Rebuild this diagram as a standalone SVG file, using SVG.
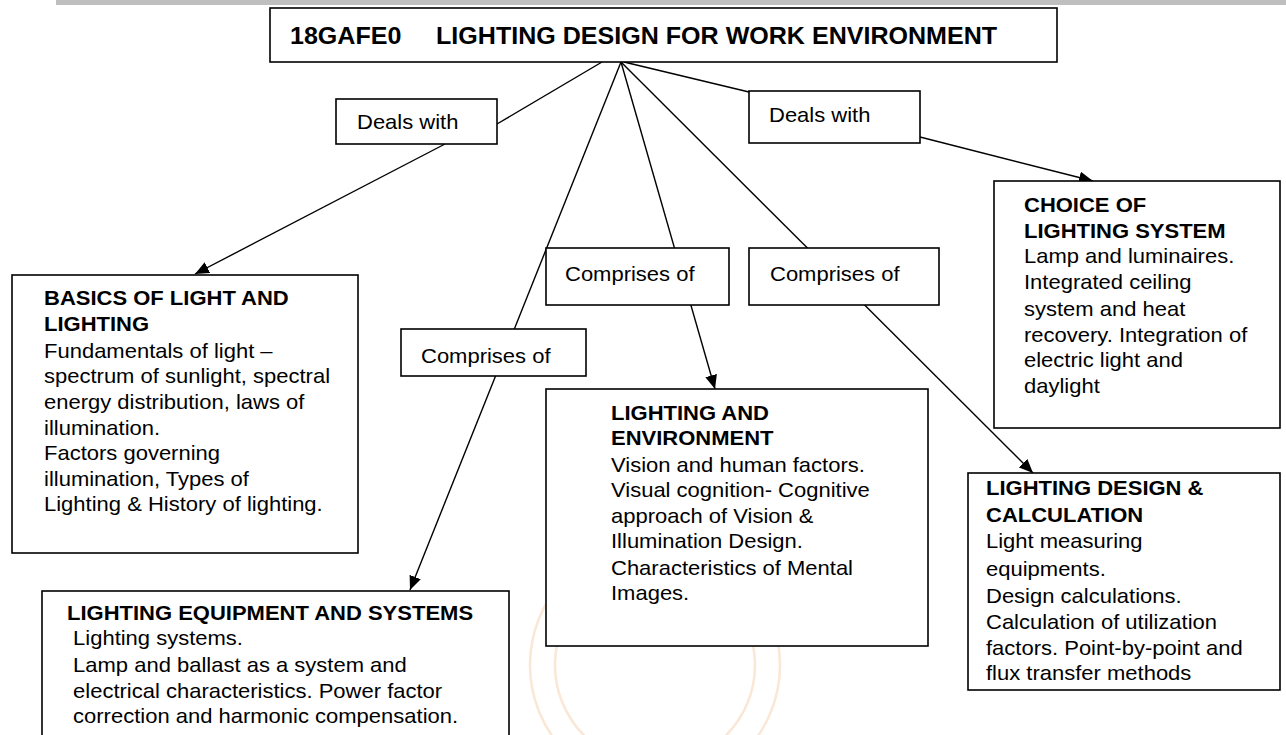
<svg xmlns="http://www.w3.org/2000/svg" width="1286" height="735" viewBox="0 0 1286 735">
<style>
.box{fill:#fff;stroke:#000;stroke-width:1.6}
.t{font-family:"Liberation Sans",Arial,Helvetica,sans-serif;font-size:20px;fill:#000}
.b{font-weight:bold}
.c{stroke:#000;stroke-width:1.4;fill:none}
.wm{fill:none;stroke:#f5d3b3;stroke-width:2.5;opacity:0.55}
</style>
<defs>
<marker id="arr" viewBox="0 0 14 12" refX="14" refY="6" markerWidth="14" markerHeight="12" markerUnits="userSpaceOnUse" orient="auto">
<path d="M0,0 L14,6 L0,12 z" fill="#000"/>
</marker>
</defs>
<rect width="1286" height="735" fill="#fff"/>
<rect x="56" y="0" width="1230" height="5" fill="#bfbfbf"/>
<g id="watermark">
<circle class="wm" cx="655" cy="665" r="125"/>
<circle class="wm" cx="655" cy="665" r="100"/>
</g>
<g id="connectors">
<line class="c" x1="602" y1="62" x2="497" y2="124"/>
<line class="c" x1="445" y1="144" x2="195" y2="274" marker-end="url(#arr)"/>
<line class="c" x1="621" y1="62" x2="410" y2="590" marker-end="url(#arr)"/>
<line class="c" x1="621" y1="62" x2="715" y2="389" marker-end="url(#arr)"/>
<line class="c" x1="621" y1="62" x2="1033" y2="473" marker-end="url(#arr)"/>
<line class="c" x1="624" y1="62" x2="749" y2="92"/>
<line class="c" x1="920" y1="137" x2="1093" y2="181" marker-end="url(#arr)"/>
</g>
<g id="title">
<rect class="box" x="270" y="8" width="787" height="54"/>
<text class="t b" style="font-size:23px" transform="translate(290,44) scale(1.09,1)"><tspan x="0">18GAFE0</tspan><tspan x="134">LIGHTING DESIGN FOR WORK ENVIRONMENT</tspan></text>
</g>
<g id="deals-left">
<rect class="box" x="336" y="99" width="161" height="45"/>
<text class="t" transform="translate(357,129) scale(1.1,1)">Deals with</text>
</g>
<g id="deals-right">
<rect class="box" x="749" y="91" width="171" height="52"/>
<text class="t" transform="translate(769,122) scale(1.1,1)">Deals with</text>
</g>
<g id="comprises-mid">
<rect class="box" x="546" y="248" width="183" height="57"/>
<text class="t" transform="translate(565,281) scale(1.1,1)">Comprises of</text>
</g>
<g id="comprises-right">
<rect class="box" x="749" y="248" width="190" height="57"/>
<text class="t" transform="translate(770,281) scale(1.1,1)">Comprises of</text>
</g>
<g id="comprises-low">
<rect class="box" x="401" y="329" width="185" height="47"/>
<text class="t" transform="translate(421,363) scale(1.1,1)">Comprises of</text>
</g>
<g id="basics">
<rect class="box" x="12" y="275" width="346" height="278"/>
<text class="t" transform="translate(44,305) scale(1.1,1)">
<tspan class="b" x="0" y="0">BASICS OF LIGHT AND</tspan>
<tspan class="b" x="0" y="26.5">LIGHTING</tspan>
<tspan x="0" y="53">Fundamentals of light –</tspan>
<tspan x="0" y="78">spectrum of sunlight, spectral</tspan>
<tspan x="0" y="104">energy distribution, laws of</tspan>
<tspan x="0" y="130">illumination.</tspan>
<tspan x="0" y="155">Factors governing</tspan>
<tspan x="0" y="181">illumination, Types of</tspan>
<tspan x="0" y="206">Lighting &amp; History of lighting.</tspan>
</text>
</g>
<g id="equipment">
<rect class="box" x="42" y="591" width="467" height="160"/>
<text class="t" transform="translate(67,620) scale(1.1,1)">
<tspan class="b" x="0" y="0">LIGHTING EQUIPMENT AND SYSTEMS</tspan>
<tspan x="5.5" y="25">Lighting systems.</tspan>
<tspan x="5.5" y="52">Lamp and ballast as a system and</tspan>
<tspan x="5.5" y="78">electrical characteristics. Power factor</tspan>
<tspan x="5.5" y="103">correction and harmonic compensation.</tspan>
</text>
</g>
<g id="environment">
<rect class="box" x="546" y="389" width="382" height="257"/>
<text class="t" transform="translate(611,420) scale(1.1,1)">
<tspan class="b" x="0" y="0">LIGHTING AND</tspan>
<tspan class="b" x="0" y="25">ENVIRONMENT</tspan>
<tspan x="0" y="52">Vision and human factors.</tspan>
<tspan x="0" y="77">Visual cognition- Cognitive</tspan>
<tspan x="0" y="103">approach of Vision &amp;</tspan>
<tspan x="0" y="128">Illumination Design.</tspan>
<tspan x="0" y="155">Characteristics of Mental</tspan>
<tspan x="0" y="180">Images.</tspan>
</text>
</g>
<g id="choice">
<rect class="box" x="994" y="181" width="286" height="247"/>
<text class="t" transform="translate(1024,212) scale(1.1,1)">
<tspan class="b" x="0" y="0">CHOICE OF</tspan>
<tspan class="b" x="0" y="26">LIGHTING SYSTEM</tspan>
<tspan x="0" y="51">Lamp and luminaires.</tspan>
<tspan x="0" y="77">Integrated ceiling</tspan>
<tspan x="0" y="104">system and heat</tspan>
<tspan x="0" y="130">recovery. Integration of</tspan>
<tspan x="0" y="155">electric light and</tspan>
<tspan x="0" y="181">daylight</tspan>
</text>
</g>
<g id="calculation">
<rect class="box" x="968" y="473" width="312" height="217"/>
<text class="t" transform="translate(986,495) scale(1.1,1)">
<tspan class="b" x="0" y="0">LIGHTING DESIGN &amp;</tspan>
<tspan class="b" x="0" y="27">CALCULATION</tspan>
<tspan x="0" y="53">Light measuring</tspan>
<tspan x="0" y="81">equipments.</tspan>
<tspan x="0" y="108">Design calculations.</tspan>
<tspan x="0" y="134">Calculation of utilization</tspan>
<tspan x="0" y="160">factors. Point-by-point and</tspan>
<tspan x="0" y="185">flux transfer methods</tspan>
</text>
</g>
</svg>
